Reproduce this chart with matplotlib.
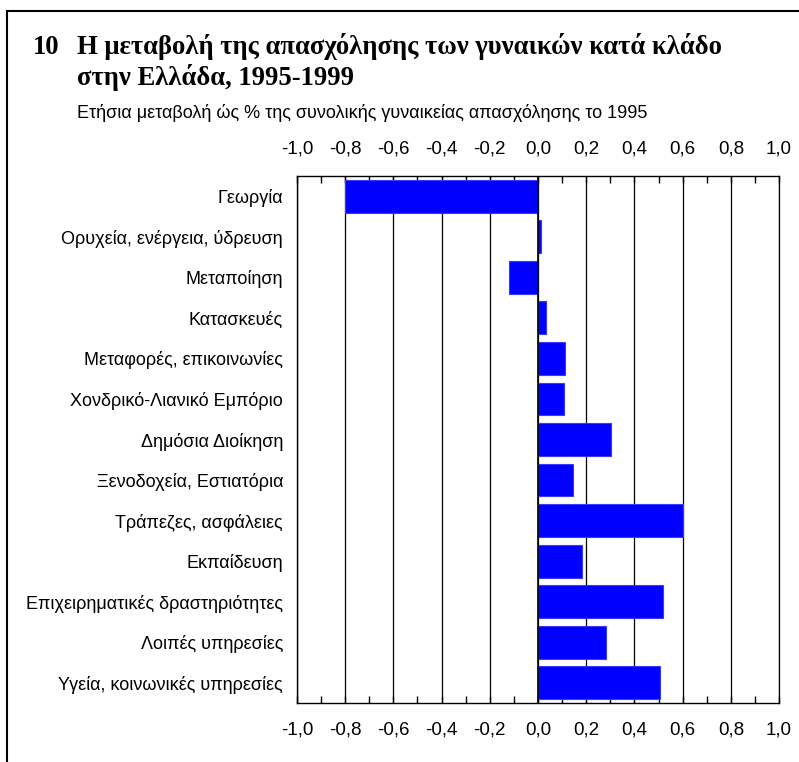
import numpy as np
import matplotlib.pyplot as plt
from matplotlib.lines import Line2D
from matplotlib.ticker import MultipleLocator, FuncFormatter

# 클라도별 여성 고용 변화 (그리스, 1995-1999)
categories = [
    "Γεωργία",
    "Ορυχεία, ενέργεια, ύδρευση",
    "Μεταποίηση",
    "Κατασκευές",
    "Μεταφορές, επικοινωνίες",
    "Χονδρικό-Λιανικό Εμπόριο",
    "Δημόσια Διοίκηση",
    "Ξενοδοχεία, Εστιατόρια",
    "Τράπεζες, ασφάλειες",
    "Εκπαίδευση",
    "Επιχειρηματικές δραστηριότητες",
    "Λοιπές υπηρεσίες",
    "Υγεία, κοινωνικές υπηρεσίες",
]
values = [-0.80, 0.014, -0.12, 0.032, 0.113, 0.106, 0.304, 0.145, 0.603,
          0.184, 0.519, 0.283, 0.507]

plt.rcParams['font.family'] = ['Liberation Sans', 'DejaVu Sans']

fig = plt.figure(figsize=(7.99, 7.62), dpi=100)
ax = fig.add_axes([0.3717, 0.0774, 0.6033, 0.6916])

y = np.arange(len(categories))
ax.barh(y, values, height=0.81, color='#0000FF', edgecolor='#3a3aff',
        linewidth=0.8, zorder=2)

ax.set_xlim(-1.0, 1.0)
ax.set_ylim(len(categories) - 0.5, -0.5)
ax.set_yticks(y)
ax.set_yticklabels(categories, fontsize=13)
ax.tick_params(axis='y', length=0, pad=10)

ax.xaxis.set_major_locator(MultipleLocator(0.2))
ax.xaxis.set_minor_locator(MultipleLocator(0.1))
ax.xaxis.set_major_formatter(FuncFormatter(lambda v, p: f"{v:.1f}".replace('.', ',').replace('-0,0', '0,0')))
ax.tick_params(axis='x', which='both', direction='in', length=5, width=1,
               top=True, bottom=True, labeltop=True, labelbottom=True,
               labelsize=13.5, pad=13)
ax.grid(axis='x', which='major', color='black', linewidth=0.9, zorder=0)
ax.set_axisbelow(True)
ax.axvline(0, color='black', linewidth=1.2, zorder=3)

for s in ax.spines.values():
    s.set_color('black')
    s.set_linewidth(1.0)
ax.spines['right'].set_linewidth(0.9)

# 바깥 테두리 (위, 왼쪽만)
fig.add_artist(Line2D([7 / 799, 1.0], [1 - 11 / 762, 1 - 11 / 762],
                      color='black', linewidth=1.5))
fig.add_artist(Line2D([7 / 799, 7 / 799], [0, 1 - 11 / 762],
                      color='black', linewidth=1.5))

title_font = dict(fontsize=19.2, fontweight='bold', family=['Liberation Serif'],
                  va='baseline')
fig.text(33 / 799, 1 - 54 / 762, "10", **title_font)
fig.text(77 / 799, 1 - 54 / 762,
         "Η μεταβολή της απασχόλησης των γυναικών κατά κλάδο", **title_font)
fig.text(77 / 799, 1 - 85 / 762, "στην Ελλάδα, 1995-1999", **title_font)
fig.text(77 / 799, 1 - 118 / 762,
         "Ετήσια μεταβολή ώς % της συνολικής γυναικείας απασχόλησης το 1995",
         fontsize=13, va='baseline')

fig.savefig('out.png', dpi=100, facecolor='white')
